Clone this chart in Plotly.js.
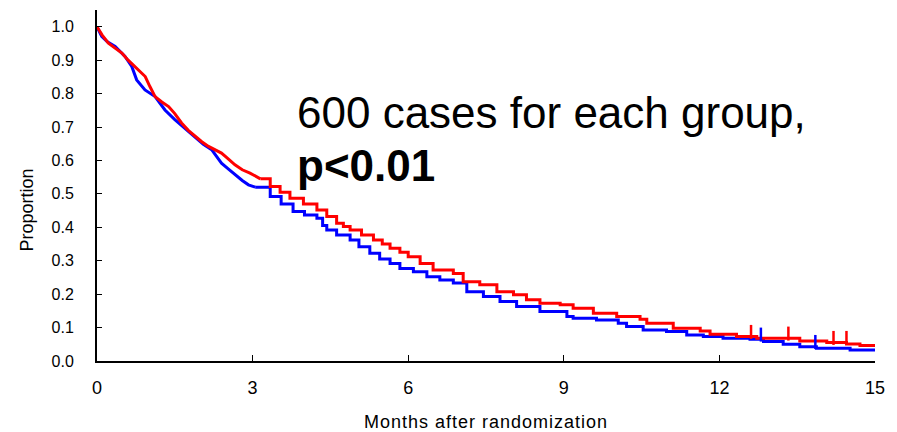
<!DOCTYPE html>
<html>
<head>
<meta charset="utf-8">
<script src="https://cdn.plot.ly/plotly-3.0.1.min.js"></script>
<style>
  html, body { margin: 0; padding: 0; background: #fff; }
  #chart { width: 897px; height: 432px; }
  .g-xtitle text { letter-spacing: 1px; }
</style>
</head>
<body>
<div id="chart"></div>
<script>
// ---- Data ----
const redMonths = [0, 0.1, 0.22, 0.35, 0.48, 0.6, 0.73, 0.85, 0.93, 1.02, 1.12, 1.25, 1.38, 1.5, 1.63, 1.76, 1.89, 2.02, 2.15, 2.28, 2.40, 2.53, 2.66, 2.8, 2.95, 3.15, 3.34, 3.53, 3.72, 3.98, 4.24, 4.43, 4.62, 4.75, 4.88, 5.1, 5.33, 5.5, 5.65, 5.84, 6.0, 6.23, 6.48, 6.87, 7.06, 7.38, 7.71, 8.03, 8.28, 8.54, 8.93, 9.18, 9.57, 10.02, 10.47, 10.6, 11.11, 11.63, 11.82, 12.33, 12.72, 13.55, 14.07, 14.45, 14.71, 15];
const redSurv = [1.0, 0.975, 0.951, 0.935, 0.921, 0.9, 0.881, 0.862, 0.851, 0.821, 0.791, 0.775, 0.761, 0.74, 0.712, 0.69, 0.672, 0.656, 0.642, 0.632, 0.622, 0.605, 0.587, 0.572, 0.562, 0.545, 0.522, 0.505, 0.487, 0.47, 0.452, 0.432, 0.412, 0.402, 0.392, 0.377, 0.362, 0.35, 0.337, 0.325, 0.312, 0.292, 0.272, 0.262, 0.237, 0.228, 0.207, 0.198, 0.183, 0.173, 0.168, 0.158, 0.143, 0.133, 0.125, 0.113, 0.098, 0.09, 0.08, 0.073, 0.068, 0.06, 0.055, 0.051, 0.046, 0.046];

const blueMonths = [0, 0.09, 0.2, 0.35, 0.54, 0.67, 0.765, 0.85, 0.925, 1.12, 1.31, 1.5, 1.7, 1.89, 2.05, 2.21, 2.4, 2.53, 2.66, 2.8, 2.92, 3.05, 3.34, 3.55, 3.78, 4.0, 4.24, 4.35, 4.43, 4.62, 4.88, 5.05, 5.26, 5.45, 5.65, 5.84, 6.10, 6.36, 6.61, 6.87, 7.13, 7.45, 7.77, 8.09, 8.54, 9.06, 9.18, 9.63, 10.05, 10.21, 10.53, 10.98, 11.37, 11.69, 12.07, 12.59, 12.85, 13.23, 13.55, 13.87, 14.52, 15];
const blueSurv = [1.0, 0.971, 0.955, 0.941, 0.911, 0.881, 0.841, 0.825, 0.811, 0.791, 0.751, 0.722, 0.695, 0.667, 0.648, 0.632, 0.592, 0.575, 0.557, 0.54, 0.527, 0.52, 0.492, 0.47, 0.447, 0.437, 0.427, 0.405, 0.392, 0.377, 0.362, 0.342, 0.322, 0.305, 0.292, 0.277, 0.267, 0.252, 0.242, 0.233, 0.207, 0.193, 0.178, 0.163, 0.148, 0.133, 0.128, 0.123, 0.113, 0.103, 0.093, 0.088, 0.078, 0.073, 0.068, 0.065, 0.058, 0.05, 0.043, 0.038, 0.033, 0.033];

const redCensored = [12.61, 13.33, 14.2, 14.45];
const blueCensored = [12.8, 13.85];

const xTicks = [0, 3, 6, 9, 12, 15];
const yTicks = [0, 0.1, 0.2, 0.3, 0.4, 0.5, 0.6, 0.7, 0.8, 0.9, 1.0];
const noteLine1 = "600 cases for each group,";
const noteLine2 = "<b>p<0.01</b>";
const xTitle = "Months after randomization";
const yTitle = "Proportion";

// Early part (many tiny steps) drawn as a fine jagged line; later part as visible steps.
const SPLIT_MONTH = 3;
function splitIdx(ts) { let i = 0; while (i < ts.length && ts[i] < SPLIT_MONTH) i++; return i; }

function curveAt(ts, ss, t) {
  for (let i = 1; i < ts.length; i++) {
    if (ts[i] >= t) return ss[i-1];
  }
  return ss[ss.length - 1];
}
const TICK_LIFT = 0.014; // censor ticks sit on top of the curve

function curveTraces(ts, ss, color) {
  const k = splitIdx(ts);
  return [
    { x: ts.slice(0, k + 1), y: ss.slice(0, k + 1), type: 'scatter', mode: 'lines', line: { shape: 'linear', color: color, width: 3 }, hoverinfo: 'skip' },
    { x: ts.slice(k), y: ss.slice(k), type: 'scatter', mode: 'lines', line: { shape: 'hv', color: color, width: 3 }, hoverinfo: 'skip' }
  ];
}

const traces = [
  ...curveTraces(blueMonths, blueSurv, '#0000FF'),
  ...curveTraces(redMonths, redSurv, '#FF0000'),
  { x: blueCensored, y: blueCensored.map(t => curveAt(blueMonths, blueSurv, t) + TICK_LIFT), type: 'scatter', mode: 'markers',
    marker: { symbol: 'line-ns-open', size: 10, color: '#0000FF', line: { color: '#0000FF', width: 2.5 } }, hoverinfo: 'skip' },
  { x: redCensored, y: redCensored.map(t => curveAt(redMonths, redSurv, t) + TICK_LIFT), type: 'scatter', mode: 'markers',
    marker: { symbol: 'line-ns-open', size: 10, color: '#FF0000', line: { color: '#FF0000', width: 2.5 } }, hoverinfo: 'skip' }
];

const layout = {
  width: 897, height: 432,
  margin: { l: 97, r: 22, t: 10, b: 71 },
  paper_bgcolor: '#fff', plot_bgcolor: '#fff',
  showlegend: false,
  font: { family: 'Liberation Sans, Arial, sans-serif', color: '#000' },
  xaxis: {
    range: [0, 15], tickvals: xTicks, ticktext: xTicks.map(String),
    showgrid: false, zeroline: false, showline: true, linecolor: '#000', linewidth: 2,
    ticks: 'inside', ticklen: 6, tickwidth: 1, tickcolor: '#000',
    ticklabelstandoff: 9,
    tickfont: { family: 'Liberation Sans Narrow, Liberation Sans, Arial, sans-serif', size: 18, color: '#000' },
    title: { text: xTitle, standoff: 19, font: { family: 'Liberation Sans, Arial, sans-serif', size: 18, color: '#000' } }
  },
  yaxis: {
    range: [0, 1.05], tickvals: yTicks, ticktext: yTicks.map(v => v.toFixed(1)),
    showgrid: false, zeroline: false, showline: true, linecolor: '#000', linewidth: 2,
    ticks: 'inside', ticklen: 5, tickwidth: 1, tickcolor: '#000',
    ticklabelstandoff: 18,
    tickfont: { family: 'Liberation Sans, Arial, sans-serif', size: 16, color: '#000' }
  },
  annotations: [
    { text: yTitle, xref: 'paper', yref: 'paper', x: -0.0895, y: 0.43, xanchor: 'center', yanchor: 'middle', textangle: -90,
      showarrow: false, font: { family: 'Liberation Sans, Arial, sans-serif', size: 18, color: '#000' }, borderpad: 0 },
    { text: noteLine1, xref: 'paper', yref: 'paper', x: 0.2558, y: 0.708, xanchor: 'left', yanchor: 'middle',
      showarrow: false, font: { family: 'Liberation Sans, Arial, sans-serif', size: 44, color: '#000' }, borderpad: 0 },
    { text: noteLine2, xref: 'paper', yref: 'paper', x: 0.2558, y: 0.558, xanchor: 'left', yanchor: 'middle',
      showarrow: false, font: { family: 'Liberation Sans, Arial, sans-serif', size: 44, color: '#000' }, borderpad: 0 }
  ]
};

Plotly.newPlot('chart', traces, layout, { displayModeBar: false, staticPlot: true });
</script>
</body>
</html>
